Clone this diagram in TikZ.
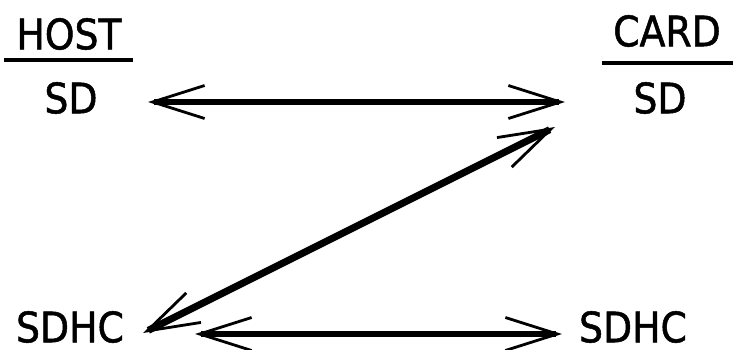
\documentclass[tikz,border=0pt]{standalone}
\usepackage{fontspec}
\setmainfont{DejaVu Sans Condensed}
\newfontfamily\lblfont[FakeBold=1.2]{DejaVu Sans Condensed}
\usetikzlibrary{arrows.meta}
\begin{document}
\begin{tikzpicture}[x=1pt,y=-1pt,
  lbl/.style={inner sep=0pt,font=\lblfont\fontsize{42}{42}\selectfont},
  rule/.style={line width=4pt},
  barbtip/.tip={Straight Barb[length=52pt,width=33pt,line width=2.8pt]},
  conn/.style={line width=6pt,barbtip-barbtip},
  diag/.style={line width=7pt,barbtip-barbtip}]
\useasboundingbox (0,0) rectangle (733,349);
\node[lbl] (host) at (69,34) {HOST};
\node[lbl] (sdL) at (71,98) {SD};
\node[lbl] (card) at (667,31) {CARD};
\node[lbl] (sdR) at (660,98) {SD};
\node[lbl] (sdhcL) at (70,327) {SDHC};
\node[lbl] (sdhcR) at (633,327) {SDHC};
\coordinate (hl1) at (4,60); \coordinate (hl2) at (133,60);
\coordinate (cl1) at (602,63); \coordinate (cl2) at (733,63);
\draw[rule] (hl1) -- (hl2);
\draw[rule] (cl1) -- (cl2);
\coordinate (a1) at (148,102); \coordinate (a2) at (565,102);
\coordinate (d1) at (555,127); \coordinate (d2) at (143,333);
\coordinate (b1) at (195,334); \coordinate (b2) at (562,334);
\draw[conn] (a1) -- (a2);
\draw[diag] (d1) -- (d2);
\draw[conn] (b1) -- (b2);
\end{tikzpicture}
\end{document}
